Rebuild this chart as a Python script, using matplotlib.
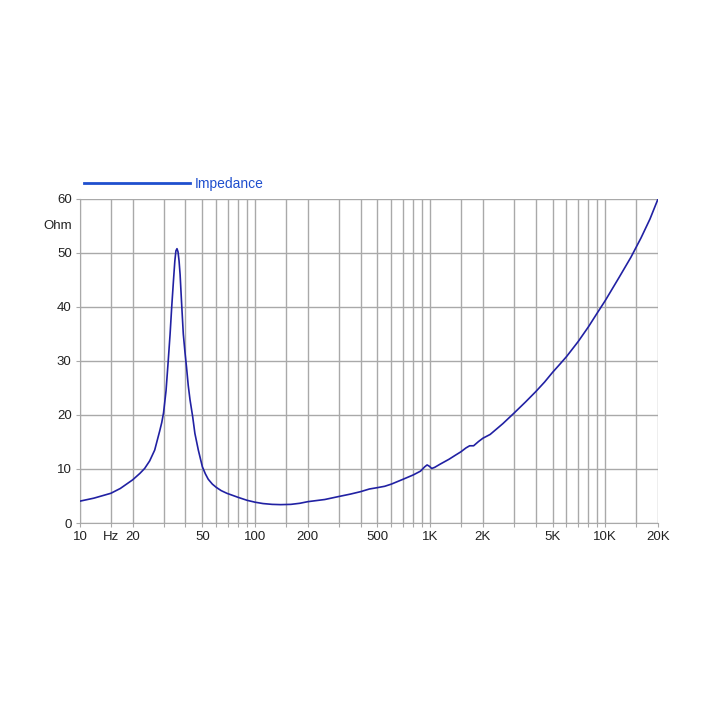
import numpy as np
import matplotlib.pyplot as plt
import matplotlib.transforms as mtransforms
from matplotlib.lines import Line2D

plt.rcParams['font.family'] = ['Liberation Sans', 'DejaVu Sans']

# impedance curve
freq = [10, 12, 15, 17, 20, 22, 23.4, 25, 26.7, 28.5, 29.3, 30, 31, 31.9,
        32.7, 33.4, 34.2, 34.8, 35.3, 35.8, 36.3, 36.8, 37.3, 38, 38.9, 39.8,
        40.6, 41.5, 42.5, 44, 45.3, 47.4, 50, 52, 54, 57, 60, 64, 69, 80, 90,
        100, 111, 125, 140, 160, 180, 200, 250, 300, 350, 400, 450, 500, 550,
        600, 700, 800, 880, 930, 960, 990, 1020, 1060, 1140, 1280, 1400, 1500,
        1600, 1680, 1770, 1890, 2000, 2200, 2600, 3000, 3500, 4000, 4500,
        5000, 5500, 6000, 7000, 8000, 9000, 10000, 12000, 14000, 16000, 18000,
        20000]
imp = [4.05, 4.6, 5.5, 6.4, 8.0, 9.2, 10.1, 11.5, 13.5, 17.0, 18.6, 20.4,
       24.5, 30, 35, 40, 45, 48.5, 50.4, 50.8, 50.2, 48.5, 46, 41, 35, 31.5,
       28.8, 25.5, 22.8, 19.7, 16.6, 13.5, 10.4, 9.1, 8.1, 7.2, 6.6, 6.0, 5.5,
       4.75, 4.2, 3.85, 3.6, 3.45, 3.4, 3.45, 3.65, 3.95, 4.35, 4.9, 5.35,
       5.8, 6.3, 6.55, 6.8, 7.2, 8.1, 8.9, 9.6, 10.4, 10.75, 10.5, 10.1, 10.3,
       10.9, 11.8, 12.6, 13.2, 13.9, 14.3, 14.3, 15.1, 15.7, 16.4, 18.4, 20.3,
       22.4, 24.3, 26.1, 27.9, 29.4, 30.8, 33.6, 36.3, 38.9, 41.2, 45.5, 49.2,
       52.8, 56.3, 60]

grid_freqs = [10, 15, 20, 30, 40, 50, 60, 70, 80, 90, 100, 150, 200, 300, 400,
              500, 600, 700, 800, 900, 1000, 1500, 2000, 3000, 4000, 5000, 6000,
              7000, 8000, 9000, 10000, 15000, 20000]
freq_labels = {10: '10', 15: 'Hz', 20: '20', 50: '50', 100: '100', 200: '200',
               500: '500', 1000: '1K', 2000: '2K', 5000: '5K', 10000: '10K',
               20000: '20K'}
y_ticks = [0, 10, 20, 30, 40, 50, 60]

fig = plt.figure(figsize=(7.2, 7.2), dpi=100)
ax = fig.add_axes([80 / 720, 1 - 523 / 720, 578 / 720, 324 / 720])

ax.plot(freq, imp, color='#2121a3', lw=1.2, zorder=3)

ax.set_xscale('log')
ax.set_xlim(10, 20000)
ax.set_ylim(0, 60)
ax.set_xticks(grid_freqs, labels=[freq_labels.get(f, '') for f in grid_freqs])
ax.xaxis.set_minor_locator(plt.NullLocator())
ax.set_yticks(y_ticks)

ax.grid(True, color='#a9a9a9', lw=1.0)
ax.set_axisbelow(True)
for s in ax.spines.values():
    s.set_visible(False)
ax.spines['left'].set_visible(True)
ax.spines['bottom'].set_visible(True)
ax.spines['left'].set_color('#a9a9a9')
ax.spines['bottom'].set_color('#a9a9a9')

ax.tick_params(axis='both', length=3, color='#a9a9a9', labelsize=9.5,
               labelcolor='#222222')
ax.tick_params(axis='x', pad=3)
ax.tick_params(axis='y', pad=3)

trans = mtransforms.blended_transform_factory(ax.transAxes, ax.transData)
ax.text(-0.014, 55, 'Ohm', transform=trans, ha='right', va='center',
        fontsize=9.5, color='#222222')

handle = Line2D([], [], color='#1f4fce', lw=2)
ax.legend([handle], ['Impedance'], loc='center left',
          bbox_to_anchor=(84 / 720, 1 - 184 / 720),
          bbox_transform=fig.transFigure, frameon=False, borderpad=0,
          borderaxespad=0, handlelength=7.6, handletextpad=0.4,
          fontsize=10, labelcolor='#1f4fce')

fig.savefig('out.png', dpi=100)
